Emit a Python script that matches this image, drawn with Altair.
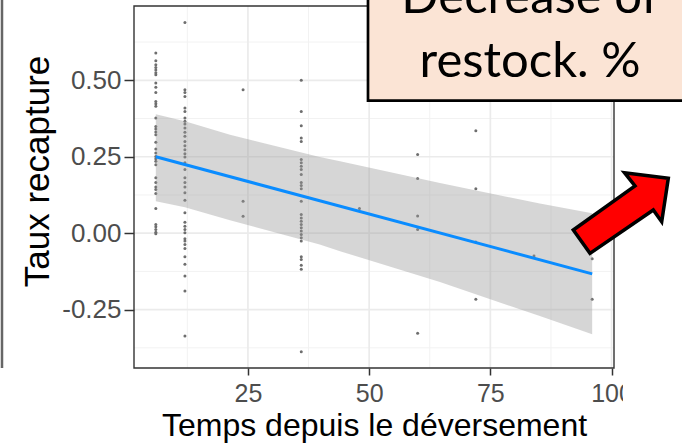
import altair as alt
import pandas as pd

# ---------------- data ----------------
col_x = [6, 12, 24, 36, 48, 60, 72, 84, 96]
y_at_6 = [0.589, 0.564, 0.551, 0.542, 0.534, 0.525, 0.518, 0.491, 0.477, 0.460, 0.431, 0.423,
          0.415, 0.377, 0.349, 0.341, 0.331, 0.322, 0.297, 0.275, 0.262, 0.251, 0.243, 0.235,
          0.224, 0.181, 0.166, 0.151, 0.143, 0.130, 0.081, 0.028, 0.021, 0.012, 0.003, -0.002]
y_at_12 = [0.689, 0.469, 0.460, 0.447, 0.409, 0.398, 0.377, 0.366, 0.357, 0.344, 0.330, 0.317,
           0.300, 0.286, 0.273, 0.260, 0.249, 0.230, 0.208, 0.181, 0.166, 0.151, 0.132, 0.108,
           0.067, 0.036, 0.023, 0.012, 0.001, -0.018, -0.026, -0.037, -0.050, -0.077, -0.102,
           -0.140, -0.189, -0.336]
y_at_24 = [0.469, 0.104, 0.055]
y_at_36 = [0.500, 0.398, 0.351, 0.311, 0.300, 0.241, 0.230, 0.219, 0.208, 0.192, 0.166, 0.156,
           0.145, 0.104, 0.061, 0.050, 0.039, 0.028, 0.018, 0.007, -0.004, -0.015, -0.026,
           -0.077, -0.086, -0.105, -0.118, -0.388]
y_at_48 = [0.081]
y_at_60 = [0.257, 0.179, 0.056, 0.012, -0.327]
y_at_72 = [0.335, 0.145, -0.029, -0.216]
y_at_84 = [-0.075]
y_at_96 = [-0.084, -0.216]
columns_y = [y_at_6, y_at_12, y_at_24, y_at_36, y_at_48, y_at_60, y_at_72, y_at_84, y_at_96]

fit_x = [6, 96]
fit_y = [0.250, -0.133]

band_x = [6, 12, 21.3, 39.8, 44, 64.6, 85.2, 96]
band_lo = [0.104, 0.085, 0.042, -0.037, -0.059, -0.160, -0.271, -0.331]
band_hi = [0.389, 0.366, 0.322, 0.249, 0.235, 0.164, 0.097, 0.065]

x_major = [25, 50, 75, 100]
x_minor = [12.5, 37.5, 62.5, 87.5]
y_major = [-0.25, 0.0, 0.25, 0.50]
y_minor = [-0.375, -0.125, 0.125, 0.375, 0.625]

x_title = "Temps depuis le déversement"
y_title = "Taux recapture"
box_lines = ["Decrease of", "restock. %"]

# ---------------- tables ----------------
pts = pd.DataFrame([(x, y) for x, ys in zip(col_x, columns_y) for y in ys], columns=["x", "y"])
fit = pd.DataFrame({"x": fit_x, "y": fit_y})
band = pd.DataFrame({"x": band_x, "lo": band_lo, "hi": band_hi})

X_DOM = [1.5, 100.5]
Y_DOM = [-0.441, 0.743]
xs = alt.Scale(domain=X_DOM, nice=False, zero=False)
ys_ = alt.Scale(domain=Y_DOM, nice=False, zero=False)

W, H = 480, 362
FONT = "Liberation Sans"

x_axis = alt.Axis(values=x_major, format="d", grid=False, domain=False,
                  tickSize=7, tickColor="#333333", tickWidth=1.5,
                  labelFontSize=25, labelColor="#4D4D4D", labelFont=FONT, labelPadding=6,
                  titleFontSize=32, titleFont=FONT, titleColor="#000000",
                  titleFontWeight="normal", titlePadding=4)
y_axis = alt.Axis(values=y_major, grid=False, domain=False,
                  labelExpr="datum.value < 0 ? '-' + format(-datum.value, '.2f') : format(datum.value, '.2f')",
                  tickSize=10, tickColor="#333333", tickWidth=1.5,
                  labelFontSize=26, labelColor="#4D4D4D", labelFont=FONT, labelPadding=3,
                  titleFontSize=35, titleFont=FONT, titleColor="#000000",
                  titleFontWeight="normal", titlePadding=6, titleY=165)


def X(field):
    return alt.X(field, scale=xs, title=x_title, axis=x_axis)


def Y(field):
    return alt.Y(field, scale=ys_, title=y_title, axis=y_axis)


xgrid_major = alt.Chart(pd.DataFrame({"x": x_major})).mark_rule(color="#EBEBEB", strokeWidth=1.7).encode(
    x=X("x:Q"))
xgrid_minor = alt.Chart(pd.DataFrame({"x": x_minor})).mark_rule(color="#F2F2F2", strokeWidth=1.0).encode(
    x=X("x:Q"))
ygrid_major = alt.Chart(pd.DataFrame({"y": y_major})).mark_rule(color="#EBEBEB", strokeWidth=1.7).encode(
    y=Y("y:Q"))
ygrid_minor = alt.Chart(pd.DataFrame({"y": y_minor})).mark_rule(color="#F2F2F2", strokeWidth=1.0).encode(
    y=Y("y:Q"))

points = alt.Chart(pts).mark_circle(size=9, color="#6E6E6E", opacity=1).encode(
    x=X("x:Q"), y=Y("y:Q"))

ribbon = alt.Chart(band).mark_area(color="#999999", opacity=0.4).encode(
    x=X("x:Q"), y=Y("lo:Q"), y2="hi:Q")

line = alt.Chart(fit).mark_line(color="#0A8CFF", strokeWidth=3).encode(
    x=X("x:Q"), y=Y("y:Q"))

one = pd.DataFrame({"k": [0]})

border = alt.Chart(one).mark_rect(fill=None, stroke="#333333", strokeWidth=1.4).encode(
    x=alt.value(0), x2=alt.value(W), y=alt.value(0), y2=alt.value(H))

left_rule = alt.Chart(one).mark_rule(color="#666666", strokeWidth=2.5).encode(
    x=alt.value(-132), y=alt.value(-6), y2=alt.value(362))

white_cover = alt.Chart(one).mark_rect(fill="white", stroke=None).encode(
    x=alt.value(489), x2=alt.value(560), y=alt.value(97), y2=alt.value(440))

box = alt.Chart(one).mark_rect(fill="#FBE4D5", stroke="#000000", strokeWidth=2.7).encode(
    x=alt.value(234), x2=alt.value(575), y=alt.value(-40), y2=alt.value(94.7))

box_text1 = alt.Chart(one).mark_text(text=box_lines[0], font="Lato", fontSize=49, color="#000000",
                                     align="center", baseline="alphabetic").encode(
    x=alt.value(396), y=alt.value(7))
box_text2 = alt.Chart(one).mark_text(text=box_lines[1], font="Lato", fontSize=49, color="#000000",
                                     align="center", baseline="alphabetic").encode(
    x=alt.value(396), y=alt.value(71))

arrow_path = ("M0.990,-0.723 L0.077,-0.840 L0.296,-0.5625 L-0.990,0.354 "
              "L-0.642,0.840 L0.677,-0.0625 L0.852,0.181 Z")
arrow = alt.Chart(one).mark_point(shape=arrow_path, filled=True, fill="#FF0000", stroke="#000000",
                                  strokeWidth=3.5, strokeJoin="miter", opacity=1, size=9216).encode(
    x=alt.value(486.8), y=alt.value(207))

chart = alt.layer(
    xgrid_minor, ygrid_minor, xgrid_major, ygrid_major,
    points, ribbon, line, border, left_rule, white_cover, box, box_text1, box_text2, arrow
).properties(
    width=W, height=H,
    autosize=alt.AutoSizeParams(type="none"),
    padding={"left": 134, "top": 6, "right": 68, "bottom": 75},
    background="white",
).configure_view(stroke=None)

chart.save("out.html", embed_options={"renderer": "svg", "actions": False})
